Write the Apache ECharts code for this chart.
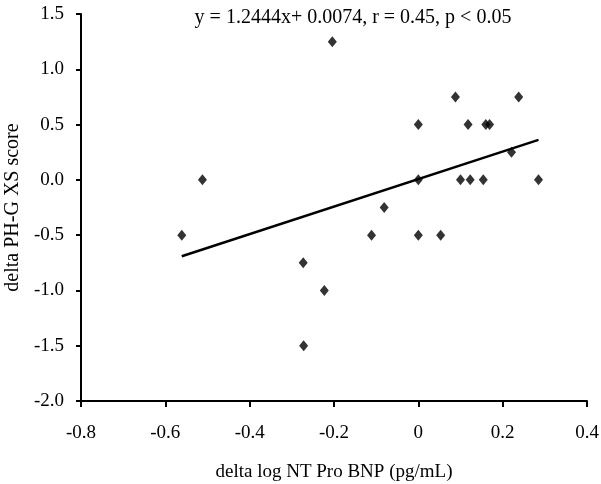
<!DOCTYPE html>
<html>
<head>
<meta charset="utf-8">
<script src="https://cdn.jsdelivr.net/npm/echarts@6/dist/echarts.min.js"></script>
<style>
  html, body { margin: 0; padding: 0; background: #fff; }
  #chart { width: 601px; height: 484px; }
</style>
</head>
<body>
<div id="chart"></div>
<script>
// delta log NT Pro BNP vs delta PH-G XS score
const xValues = [-0.204, 0.00, 0.088, 0.118, 0.160, 0.169, 0.238, 0.221,
  -0.561, -0.512, -0.273, -0.223, -0.111, -0.081, 0.00, 0.00, 0.053,
  0.100, 0.123, 0.154, 0.285, -0.272]
const yValues = [1.25, 0.5, 0.75, 0.5, 0.5, 0.5, 0.75, 0.25,
  -0.5, 0, -0.75, -1.0, -0.5, -0.25, 0, -0.5, -0.5,
  0, 0, 0, 0, -1.5]
const slope = 1.2444
const intercept = 0.0074
const titleText = 'y = 1.2444x+ 0.0074, r = 0.45, p < 0.05'

const points = xValues.map((x, i) => [x, yValues[i]])
const xMin = Math.min(...xValues)
const xMax = Math.max(...xValues)
const fitLine = [[xMin, slope * xMin + intercept], [xMax, slope * xMax + intercept]]

const FONT = '"Liberation Serif", "Times New Roman", serif'
const chart = echarts.init(document.getElementById('chart'), null, { renderer: 'canvas' })
chart.setOption({
  animation: false,
  title: {
    text: titleText, left: 348, textAlign: 'center', top: 3,
    textStyle: { fontFamily: FONT, fontSize: 20, fontWeight: 'normal', color: '#000' },
  },
  grid: { left: 81, right: 14, top: 14, bottom: 83, containLabel: false, outerBoundsMode: 'none' },
  xAxis: {
    type: 'value', min: -0.8, max: 0.4, interval: 0.2,
    name: 'delta log NT Pro BNP (pg/mL)', nameLocation: 'middle', nameGap: 62,
    nameMoveOverlap: false,
    nameTextStyle: { fontFamily: FONT, fontSize: 19, color: '#000' },
    axisLine: { onZero: false, lineStyle: { color: '#000', width: 2 } },
    axisTick: { show: true, length: 6, lineStyle: { color: '#000', width: 2 } },
    axisLabel: { fontFamily: FONT, fontSize: 19, color: '#000', margin: 23,
      formatter: (v) => (v === 0 ? '0' : v.toFixed(1)) },
    splitLine: { show: false },
  },
  yAxis: {
    type: 'value', min: -2.0, max: 1.5, interval: 0.5,
    name: 'delta PH-G XS score', nameLocation: 'middle', nameGap: 58,
    nameMoveOverlap: false,
    nameTextStyle: { fontFamily: FONT, fontSize: 20, color: '#000' },
    axisLine: { show: true, onZero: false, lineStyle: { color: '#000', width: 2 } },
    axisTick: { show: true, length: 5, lineStyle: { color: '#000', width: 2 } },
    axisLabel: { fontFamily: FONT, fontSize: 19, color: '#000', margin: 17,
      formatter: (v) => v.toFixed(1) },
    splitLine: { show: false },
  },
  series: [
    {
      type: 'scatter', data: points, symbol: 'diamond', symbolSize: [9, 11],
      itemStyle: { color: '#000' }, z: 3,
    },
    {
      type: 'line', data: fitLine, showSymbol: false, symbol: 'none',
      lineStyle: { color: '#000', width: 2.5 }, z: 2,
    },
  ],
})
</script>
</body>
</html>
